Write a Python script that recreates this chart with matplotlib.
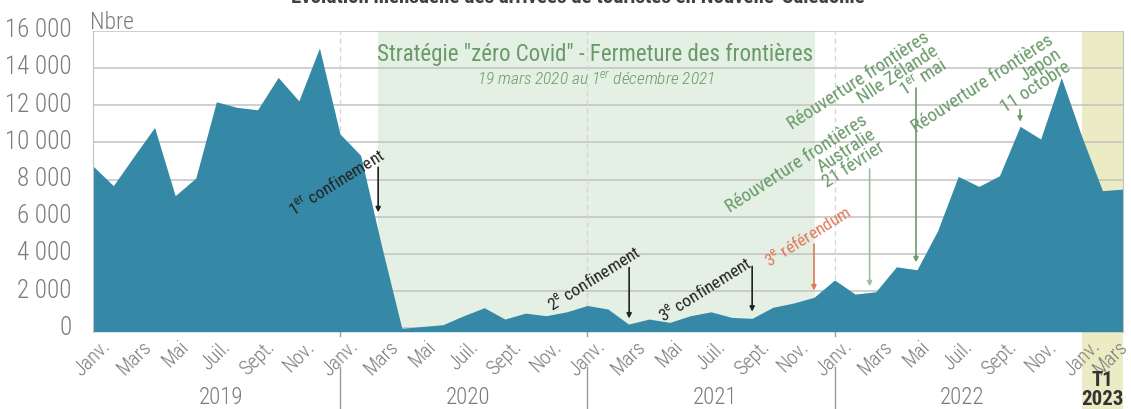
import matplotlib
matplotlib.use("Agg")
import matplotlib.pyplot as plt
import matplotlib.transforms as mtransforms
from matplotlib.patches import Rectangle
import numpy as np

# --- données (arrivées mensuelles de touristes) ---
arrivals_2019 = [8740, 7670, 9250, 10800, 7130, 8080, 12180, 11880, 11750, 13490, 12230, 15070]
arrivals_2020 = [10450, 9300, 4500, 0, 100, 200, 680, 1110, 500, 820, 680, 890]
arrivals_2021 = [1230, 1040, 230, 500, 320, 680, 890, 590, 540, 1130, 1360, 1670]
arrivals_2022 = [2600, 1840, 1970, 3310, 3150, 5250, 8170, 7630, 8200, 10860, 10180, 13480]
arrivals_2023 = [10300, 7400, 7490]

years = ["2019", "2020", "2021", "2022"]
month_labels = ["Janv.", "", "Mars", "", "Mai", "", "Juil.", "", "Sept.", "", "Nov.", ""]
y_ticks = [0, 2000, 4000, 6000, 8000, 10000, 12000, 14000, 16000]

values = np.array(arrivals_2019 + arrivals_2020 + arrivals_2021 + arrivals_2022 + arrivals_2023)
x = np.arange(len(values))
tick_labels = (month_labels * 5)[:len(values)]

plt.rcParams["font.family"] = ["Roboto Condensed", "DejaVu Sans"]
plt.rcParams["font.weight"] = "light"
plt.rcParams["mathtext.default"] = "regular"

AREA = "#3589a6"
GREEN_BG = "#e3f0e3"
YELLOW_BG = "#ebecc4"
GREEN_TXT = "#6a9a6a"
ORANGE = "#e0795a"
GRAY = "#7b7b7b"
DARK = "#222222"

fig = plt.figure(figsize=(11.31, 4.10), dpi=100)
ax = fig.add_axes([0.082, 0.1885, 0.911, 0.7342])
ax.set_xlim(0, len(values) - 1)
ax.set_ylim(-180, 16000)

# bandes de fond
ax.axvspan(13.85, 35.05, color=GREEN_BG, zorder=0, lw=0)
trans = mtransforms.blended_transform_factory(ax.transData, ax.transAxes)
ax.add_patch(Rectangle((48, -0.26), 2, 1.26, transform=trans, color=YELLOW_BG,
                       lw=0, zorder=0, clip_on=False))

# grille
for v in y_ticks:
    ax.axhline(v, color="#c2c2c2", lw=1.1, zorder=0.5)
for j in (12, 24, 36):
    ax.axvline(j, color="#d4d4d4", lw=0.9, ls=(0, (4, 3)), zorder=0.5)

ax.fill_between(x, values, -180, color=AREA, lw=0, zorder=2)

for s in ("top", "bottom"):
    ax.spines[s].set_visible(False)
for s in ("left", "right"):
    ax.spines[s].set_color("#c2c2c2")

ax.set_yticks(y_ticks)
ax.set_yticklabels([f"{v:,}".replace(",", " ") for v in y_ticks])
ax.tick_params(axis="y", length=0, pad=15, labelsize=18, labelcolor=GRAY)
off = mtransforms.ScaledTranslation(0, 4 / 100, fig.dpi_scale_trans)
for lab in ax.get_yticklabels():
    lab.set_transform(lab.get_transform() + off)

ax.set_xticks(x)
ax.set_xticklabels(tick_labels, rotation=45, ha="center", va="top")
ax.tick_params(axis="x", length=0, pad=3, labelsize=14.5, labelcolor=GRAY)
last = ax.get_xticklabels()[-1]
last.set_transform(last.get_transform() + mtransforms.ScaledTranslation(-13 / 100, 0, fig.dpi_scale_trans))
for j in (12, 24, 36):
    ax.plot([j, j], [0, -0.013], transform=trans, color="#999999", lw=1, clip_on=False)

# années
for i, yr in enumerate(years):
    ax.text(12 * i + 6.2, -0.215, yr, transform=trans, ha="center", va="center",
            fontsize=16.5, color=GRAY)
for j in (12, 24, 36):
    ax.plot([j, j], [-0.117, -0.26], transform=trans, color="#999999", lw=1, clip_on=False)
ax.text(49, -0.127, "T1\n2023", transform=trans, ha="center", va="top",
        fontsize=15, fontweight="bold", color="#333333", linespacing=1.0)

# titres
fig.text(0.511, 0.993, "Évolution mensuelle des arrivées de touristes en Nouvelle-Calédonie",
         ha="center", va="baseline", fontsize=15, fontweight="bold", color="#404040")
fig.text(0.080, 0.945, "Nbre", ha="left", va="center", fontsize=17, color=GRAY)

ax.text(24.4, 14800, 'Stratégie "zéro Covid" - Fermeture des frontières', ha="center",
        va="center", fontsize=16.5, fontweight="normal", color=GREEN_TXT, zorder=3)
ax.text(24.4, 13500, "19 mars 2020 au 1$^{er}$ décembre 2021", ha="center", va="center",
        fontsize=12.5, style="italic", color=GREEN_TXT, zorder=3)

# annotations confinements / référendum
notes = [
    ("1$^{er}$ confinement", 14.25, 9210, DARK),
    ("2$^{e}$ confinement", 26.65, 4000, DARK),
    ("3$^{e}$ confinement", 32.05, 3380, DARK),
    ("3$^{e}$ référendum", 36.88, 6150, ORANGE),
]
for txt, tx, ty, col in notes:
    ax.text(tx, ty, txt, rotation=32, rotation_mode="anchor", ha="right", va="baseline",
            fontsize=12.5, fontweight="normal", color=col, zorder=3)

arrows = [
    (13.85, 8660, 6240, DARK),
    (26.03, 3270, 530, DARK),
    (32.0, 3330, 900, DARK),
    (35.0, 4530, 2040, ORANGE),
    (37.7, 8565, 2260, "#9dbf9d"),
    (39.95, 12920, 3550, GREEN_TXT),
    (45.0, 11760, 11110, GREEN_TXT),
]
for ax_x, y0, y1, col in arrows:
    ax.annotate("", xy=(ax_x, y1), xytext=(ax_x, y0),
                arrowprops=dict(arrowstyle="-|>", color=col, lw=1.2, mutation_scale=7,
                                shrinkA=0, shrinkB=0), zorder=3)

reopen = [
    ("Réouverture frontières\nAustralie\n21 février", 38.56, 9555),
    ("Réouverture frontières\nNlle Zélande\n1$^{er}$ mai", 41.56, 13995),
    ("Réouverture frontières\nJapon\n11 octobre", 47.56, 13845),
]
for txt, tx, ty in reopen:
    ax.text(tx, ty, txt, rotation=33, rotation_mode="anchor", ha="right", va="baseline",
            multialignment="right", linespacing=0.85, fontsize=13.5, fontweight="normal",
            color=GREEN_TXT, zorder=3)

fig.savefig("out.png", dpi=100)
